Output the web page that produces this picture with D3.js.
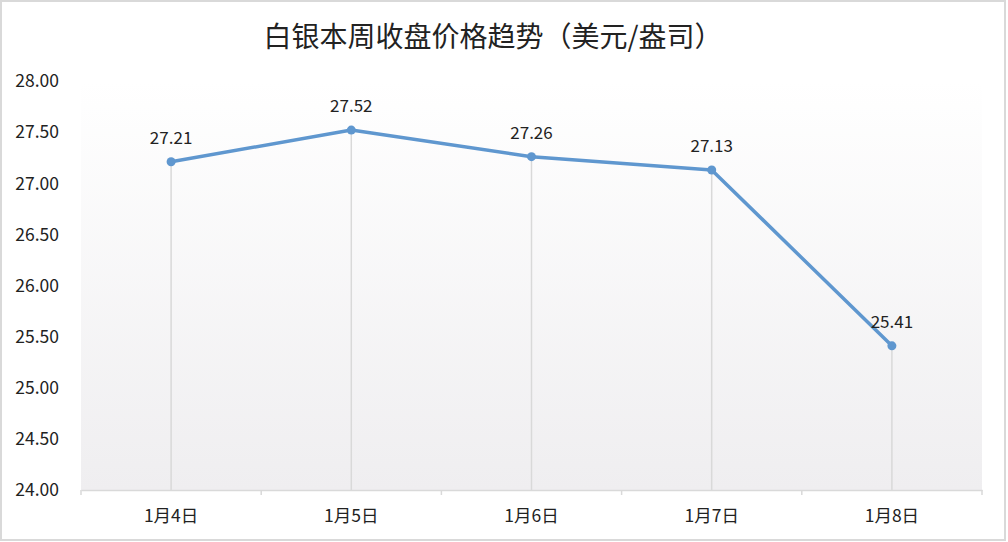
<!DOCTYPE html>
<html><head><meta charset="utf-8">
<script src="https://cdn.jsdelivr.net/npm/d3@7"></script>
<style>body{margin:0;background:#fff;}svg{display:block;}</style>
</head><body><svg id="c" width="1008" height="542"></svg>
<script>
const categories = ["1月4日","1月5日","1月6日","1月7日","1月8日"];
const values = [27.21, 27.52, 27.26, 27.13, 25.41];
const yTicks = [24.00, 24.50, 25.00, 25.50, 26.00, 26.50, 27.00, 27.50, 28.00];
const title = "白银本周收盘价格趋势（美元/盎司）";

const svg = d3.select("#c");
const W = 1008, H = 542;
const m = {left: 81, right: 1008-982, top: 81, bottom: 542-490};
const font = "'Noto Sans CJK SC', 'Noto Sans', sans-serif";

svg.append("rect").attr("x",1).attr("y",1).attr("width",1004).attr("height",539)
  .attr("fill","#fff").attr("stroke","#d9d9d9").attr("stroke-width",2);

const defs = svg.append("defs");
const g = defs.append("linearGradient").attr("id","bg").attr("x1",0).attr("y1",0).attr("x2",0).attr("y2",1);
g.append("stop").attr("offset","0%").attr("stop-color","#ffffff");
g.append("stop").attr("offset","100%").attr("stop-color","#efeef0");

const x = d3.scaleBand().domain(categories).range([m.left, W-m.right]).padding(0);
const y = d3.scaleLinear().domain([24, 28]).range([H-m.bottom, m.top]);

svg.append("rect").attr("x",m.left).attr("y",m.top).attr("width",W-m.right-m.left)
  .attr("height",H-m.bottom-m.top).attr("fill","url(#bg)");

svg.append("text").attr("x",493).attr("y",47).attr("text-anchor","middle")
  .attr("font-family",font).attr("font-size",28).attr("fill","#222").text(title);

// y labels
svg.append("g").selectAll("text").data(yTicks).join("text")
  .attr("x",59).attr("y",d=>y(d)).attr("dy","0.36em").attr("text-anchor","end")
  .attr("font-family",font).attr("font-size",17.5).attr("fill","#222")
  .text(d=>d.toFixed(2));

// drop lines
const cx = d=>x(d)+x.bandwidth()/2;
svg.append("g").selectAll("line").data(categories).join("line")
  .attr("x1",cx).attr("x2",cx).attr("y1",(d,i)=>y(values[i])).attr("y2",y(24))
  .attr("stroke","#d9d9d9").attr("stroke-width",1.5);

// x axis
const xa = svg.append("g").attr("transform",`translate(0,${y(24)})`)
  .call(d3.axisBottom(x).tickSize(0).tickFormat(""));
xa.select(".domain").attr("stroke","#d9d9d9").attr("stroke-width",1.5);
const bounds = categories.map(c=>x(c)).concat([W-m.right]);
svg.append("g").selectAll("line").data(bounds).join("line")
  .attr("x1",d=>d).attr("x2",d=>d).attr("y1",y(24)).attr("y2",y(24)+5)
  .attr("stroke","#d9d9d9").attr("stroke-width",1.5);
svg.append("g").selectAll("text").data(categories).join("text")
  .attr("x",cx).attr("y",516).attr("dy","0.36em").attr("text-anchor","middle")
  .attr("font-family",font).attr("font-size",17.5).attr("fill","#222").text(d=>d);

// line
const line = d3.line().x((d,i)=>cx(categories[i])).y(d=>y(d));
svg.append("path").datum(values).attr("d",line).attr("fill","none")
  .attr("stroke","#5f97cf").attr("stroke-width",3.5).attr("stroke-linejoin","round");
svg.append("g").selectAll("circle").data(values).join("circle")
  .attr("cx",(d,i)=>cx(categories[i])).attr("cy",d=>y(d)).attr("r",4.5).attr("fill","#5f97cf");

// data labels
svg.append("g").selectAll("text").data(values).join("text")
  .attr("x",(d,i)=>cx(categories[i])).attr("y",d=>y(d)-24).attr("dy","0.36em")
  .attr("text-anchor","middle").attr("font-family",font).attr("font-size",17).attr("fill","#222")
  .text(d=>d.toFixed(2));
</script></body></html>
